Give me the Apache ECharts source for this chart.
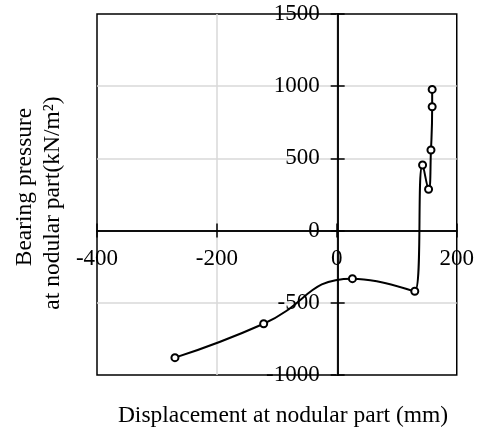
<!DOCTYPE html>
<html style="height: 100%">
<head>
    <meta charset="utf-8">
    <title>ECharts</title>
    <script src="https://cdn.jsdelivr.net/npm/echarts@6/dist/echarts.min.js"></script>
</head>
<body style="height: 100%; margin: 0; background: #fff">
<div id="main" style="width: 477px; height: 427px"></div>
<script type="text/javascript">
    // displacement (mm) and bearing pressure (kN/m2)
    var dispX = [-270, -122, 26, 130, 143, 153, 157, 159, 159];
    var pressY = [-880, -645, -333, -420, 454, 286, 558, 858, 978];

    var xTicks = [-400, 200, 200];   // min, max, interval
    var yTicks = [-1000, 1500, 500];

    var font = 'Liberation Serif';
    var points = dispX.map(function (x, i) { return [x, pressY[i]]; });
    var plain = function (v) { return String(v); };

    var W = 477, H = 427;
    var gl = 97, gr = 19, gt = 14, gb = 52;
    var gw = W - gl - gr, gh = H - gt - gb;
    // v6 keeps onZero labels at the grid edge, so move the axes to zero with offset
    var xOff = -gh * (0 - yTicks[0]) / (yTicks[1] - yTicks[0]);
    var yOff = -gw * (0 - xTicks[0]) / (xTicks[1] - xTicks[0]);

    var myChart = echarts.init(document.getElementById('main'));

    var black = { color: '#000', width: 1.5 };
    var grey = { show: true, showMinLine: false, showMaxLine: false, lineStyle: { color: '#d9d9d9', width: 1.5 } };

    var option = {
        animation: false,
        grid: {
            left: gl, right: gr, top: gt, bottom: gb,
            show: true, borderColor: '#000', borderWidth: 1.5
        },
        xAxis: [{
            type: 'value', min: xTicks[0], max: xTicks[1], interval: xTicks[2],
            position: 'bottom', offset: xOff,
            axisLine: { onZero: false, lineStyle: black },
            axisTick: { show: true, length: 7, lineStyle: black },
            axisLabel: { color: '#000', fontFamily: font, fontSize: 23, margin: 17, formatter: plain, showMinLabel: true, showMaxLabel: true },
            splitLine: grey
        }, {
            type: 'value', min: xTicks[0], max: xTicks[1], interval: xTicks[2],
            position: 'bottom', offset: xOff,
            axisLine: { onZero: false, lineStyle: black },
            axisTick: { show: true, inside: true, length: 7, lineStyle: black },
            axisLabel: { show: false },
            splitLine: { show: false }
        }],
        yAxis: [{
            type: 'value', min: yTicks[0], max: yTicks[1], interval: yTicks[2],
            position: 'left', offset: yOff,
            axisLine: { show: true, onZero: false, lineStyle: black },
            axisTick: { show: true, length: 7, lineStyle: black },
            axisLabel: { color: '#000', fontFamily: font, fontSize: 23, margin: 18, formatter: plain, showMinLabel: true, showMaxLabel: true },
            splitLine: grey
        }, {
            type: 'value', min: yTicks[0], max: yTicks[1], interval: yTicks[2],
            position: 'left', offset: yOff,
            axisLine: { show: true, onZero: false, lineStyle: black },
            axisTick: { show: true, inside: true, length: 7, lineStyle: black },
            axisLabel: { show: false },
            splitLine: { show: false }
        }],
        graphic: [{
            type: 'text', x: 283, y: 416,
            style: { text: 'Displacement at nodular part (mm)', font: '23.5px "Liberation Serif"', fill: '#000', align: 'center', verticalAlign: 'middle' }
        }, {
            type: 'text', x: 25, y: 187, rotation: Math.PI / 2,
            style: { text: 'Bearing pressure', font: '23.5px "Liberation Serif"', fill: '#000', align: 'center', verticalAlign: 'middle' }
        }, {
            type: 'text', x: 53, y: 203, rotation: Math.PI / 2,
            style: { text: 'at nodular part(kN/m²)', font: '23.5px "Liberation Serif"', fill: '#000', align: 'center', verticalAlign: 'middle' }
        }],
        series: [{
            type: 'line',
            data: points,
            smooth: 0.5,
            symbol: 'emptyCircle',
            symbolSize: 7,
            lineStyle: { color: '#000', width: 2 },
            itemStyle: { color: '#000', borderColor: '#000', borderWidth: 1.5 },
            z: 5
        }]
    };

    myChart.setOption(option);
</script>
</body>
</html>
